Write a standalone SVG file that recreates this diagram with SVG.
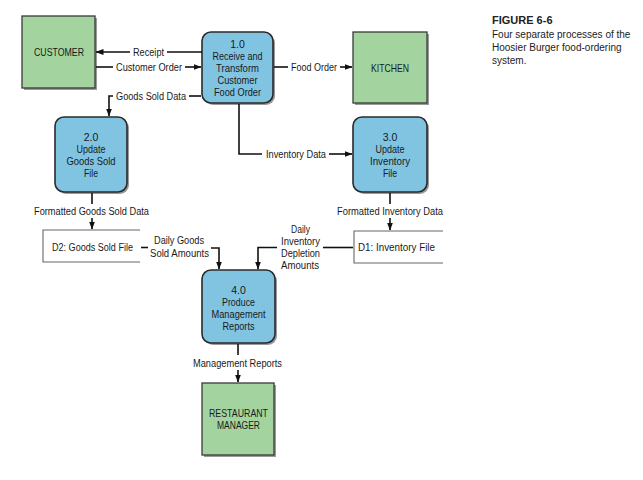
<svg xmlns="http://www.w3.org/2000/svg" width="643" height="480" viewBox="0 0 643 480">
<defs>
<marker id="ah" viewBox="0 0 8 8" refX="7.5" refY="4" markerWidth="8" markerHeight="8" markerUnits="userSpaceOnUse" orient="auto">
<path d="M0,1 L8,4 L0,7 Z" fill="#111"/>
</marker>
</defs>
<style>
text{font-family:"Liberation Sans",Arial,sans-serif;fill:#1a1a1a}
.lbl{font-size:10px}
.nt{font-size:10.5px;text-anchor:middle}
.mid{text-anchor:middle}
.proc{fill:#80c4e2;stroke:#2a2a2a;stroke-width:1.6}
.ent{fill:#a3d49f;stroke:#3a3a3a;stroke-width:1.3}
.sh{fill:#9a9a9a}
.ln{fill:none;stroke:#111;stroke-width:1.6}
.ar{marker-end:url(#ah)}
.ds{fill:none;stroke:#666;stroke-width:1.1}
.cap{font-size:10px;fill:#222}
.capt{font-size:11px;font-weight:bold;fill:#222}
</style>
<rect width="643" height="480" fill="#fff"/>

<g id="customer">
<rect class="sh" x="24" y="18" width="73" height="72"/>
<rect class="ent" x="22" y="16" width="73" height="72"/>
<text class="nt" x="59" y="55.5" textLength="50" lengthAdjust="spacingAndGlyphs">CUSTOMER</text>
</g>

<g id="p1">
<rect class="sh" x="204" y="34" width="71" height="71" rx="9"/>
<rect class="proc" x="202" y="32" width="71" height="71" rx="9"/>
<text class="nt" x="237.5" y="48">1.0</text>
<text class="nt" x="237.5" y="60" textLength="50" lengthAdjust="spacingAndGlyphs">Receive and</text>
<text class="nt" x="237.5" y="72" textLength="43" lengthAdjust="spacingAndGlyphs">Transform</text>
<text class="nt" x="237.5" y="84" textLength="40" lengthAdjust="spacingAndGlyphs">Customer</text>
<text class="nt" x="237.5" y="96" textLength="47" lengthAdjust="spacingAndGlyphs">Food Order</text>
</g>

<g id="kitchen">
<rect class="sh" x="355" y="34" width="74" height="71"/>
<rect class="ent" x="353" y="32" width="74" height="71"/>
<text class="nt" x="390" y="71.5" textLength="38" lengthAdjust="spacingAndGlyphs">KITCHEN</text>
</g>

<g id="p2">
<rect class="sh" x="57" y="119" width="72" height="75" rx="9"/>
<rect class="proc" x="55" y="117" width="72" height="75" rx="9"/>
<text class="nt" x="91" y="140.5">2.0</text>
<text class="nt" x="91" y="152.5" textLength="29" lengthAdjust="spacingAndGlyphs">Update</text>
<text class="nt" x="91" y="164.5" textLength="49" lengthAdjust="spacingAndGlyphs">Goods Sold</text>
<text class="nt" x="91" y="176.5" textLength="14" lengthAdjust="spacingAndGlyphs">File</text>
</g>

<g id="p3">
<rect class="sh" x="355" y="119" width="74" height="75" rx="9"/>
<rect class="proc" x="353" y="117" width="74" height="75" rx="9"/>
<text class="nt" x="390" y="140.5">3.0</text>
<text class="nt" x="390" y="152.5" textLength="29" lengthAdjust="spacingAndGlyphs">Update</text>
<text class="nt" x="390" y="164.5" textLength="40" lengthAdjust="spacingAndGlyphs">Inventory</text>
<text class="nt" x="390" y="176.5" textLength="14" lengthAdjust="spacingAndGlyphs">File</text>
</g>

<g id="d2">
<path class="ds" d="M140,230 H43 V262 H140"/>
<text class="lbl" x="52" y="250.5" textLength="81" lengthAdjust="spacingAndGlyphs">D2: Goods Sold File</text>
</g>

<g id="d1">
<path class="ds" d="M443,231 H354 V263 H443"/>
<text class="lbl" x="358" y="250.5" textLength="77" lengthAdjust="spacingAndGlyphs">D1: Inventory File</text>
</g>

<g id="p4">
<rect class="sh" x="204" y="272" width="73" height="73" rx="9"/>
<rect class="proc" x="202" y="270" width="73" height="73" rx="9"/>
<text class="nt" x="238.5" y="293.5">4.0</text>
<text class="nt" x="238.5" y="305.5" textLength="33" lengthAdjust="spacingAndGlyphs">Produce</text>
<text class="nt" x="238.5" y="317.5" textLength="54" lengthAdjust="spacingAndGlyphs">Management</text>
<text class="nt" x="238.5" y="329.5" textLength="32" lengthAdjust="spacingAndGlyphs">Reports</text>
</g>

<g id="manager">
<rect class="sh" x="204" y="385" width="72" height="72"/>
<rect class="ent" x="202" y="383" width="72" height="72"/>
<text class="nt" x="238.5" y="416.5" textLength="59" lengthAdjust="spacingAndGlyphs">RESTAURANT</text>
<text class="nt" x="238.5" y="428.5" textLength="43" lengthAdjust="spacingAndGlyphs">MANAGER</text>
</g>

<g id="connectors">
<path class="ln" d="M202,52 H167"/>
<path class="ln ar" d="M130,52 H96"/>
<text class="lbl mid" x="148.5" y="55.5" textLength="31" lengthAdjust="spacingAndGlyphs">Receipt</text>
<path class="ln" d="M96,67 H113"/>
<path class="ln ar" d="M185,67 H201"/>
<text class="lbl mid" x="149" y="70.5" textLength="66" lengthAdjust="spacingAndGlyphs">Customer Order</text>
<path class="ln" d="M274,67 H288"/>
<path class="ln ar" d="M340,67 H352"/>
<text class="lbl mid" x="314" y="70.5" textLength="46" lengthAdjust="spacingAndGlyphs">Food Order</text>
<path class="ln" d="M201,96 H189"/>
<path class="ln ar" d="M113,96 H109 V116"/>
<text class="lbl" x="116" y="99.5" textLength="70" lengthAdjust="spacingAndGlyphs">Goods Sold Data</text>
<path class="ln" d="M239,104 V154 H262"/>
<path class="ln ar" d="M329,154 H352"/>
<text class="lbl" x="266" y="157.5" textLength="60" lengthAdjust="spacingAndGlyphs">Inventory Data</text>
<path class="ln" d="M92,193 V204"/>
<path class="ln ar" d="M92,218 V229"/>
<text class="lbl mid" x="91.5" y="214.5" textLength="115" lengthAdjust="spacingAndGlyphs">Formatted Goods Sold Data</text>
<path class="ln" d="M390,193 V204"/>
<path class="ln ar" d="M390,218 V230"/>
<text class="lbl mid" x="390" y="214.5" textLength="106" lengthAdjust="spacingAndGlyphs">Formatted Inventory Data</text>
<path class="ln" d="M141,247.5 H148"/>
<path class="ln ar" d="M211,248 H219 V269"/>
<text class="lbl mid" x="179" y="243.5" textLength="50" lengthAdjust="spacingAndGlyphs">Daily Goods</text>
<text class="lbl mid" x="179.5" y="256.5" textLength="59" lengthAdjust="spacingAndGlyphs">Sold Amounts</text>
<path class="ln" d="M353,247.5 H323"/>
<path class="ln ar" d="M277,247.5 H258 V269"/>
<text class="lbl mid" x="300.5" y="232.5" textLength="19" lengthAdjust="spacingAndGlyphs">Daily</text>
<text class="lbl mid" x="300.5" y="244.5" textLength="39" lengthAdjust="spacingAndGlyphs">Inventory</text>
<text class="lbl mid" x="300.5" y="256.5" textLength="39" lengthAdjust="spacingAndGlyphs">Depletion</text>
<text class="lbl mid" x="300" y="268.5" textLength="38" lengthAdjust="spacingAndGlyphs">Amounts</text>
<path class="ln" d="M238,344 V355"/>
<path class="ln ar" d="M238,370 V382"/>
<text class="lbl mid" x="237.5" y="366.5" textLength="89" lengthAdjust="spacingAndGlyphs">Management Reports</text>
</g>

<g id="caption">
<text class="capt" x="492" y="24">FIGURE 6-6</text>
<text class="cap" x="492" y="38">Four separate processes of the</text>
<text class="cap" x="492" y="51">Hoosier Burger food-ordering</text>
<text class="cap" x="492" y="64">system.</text>
</g>
</svg>
